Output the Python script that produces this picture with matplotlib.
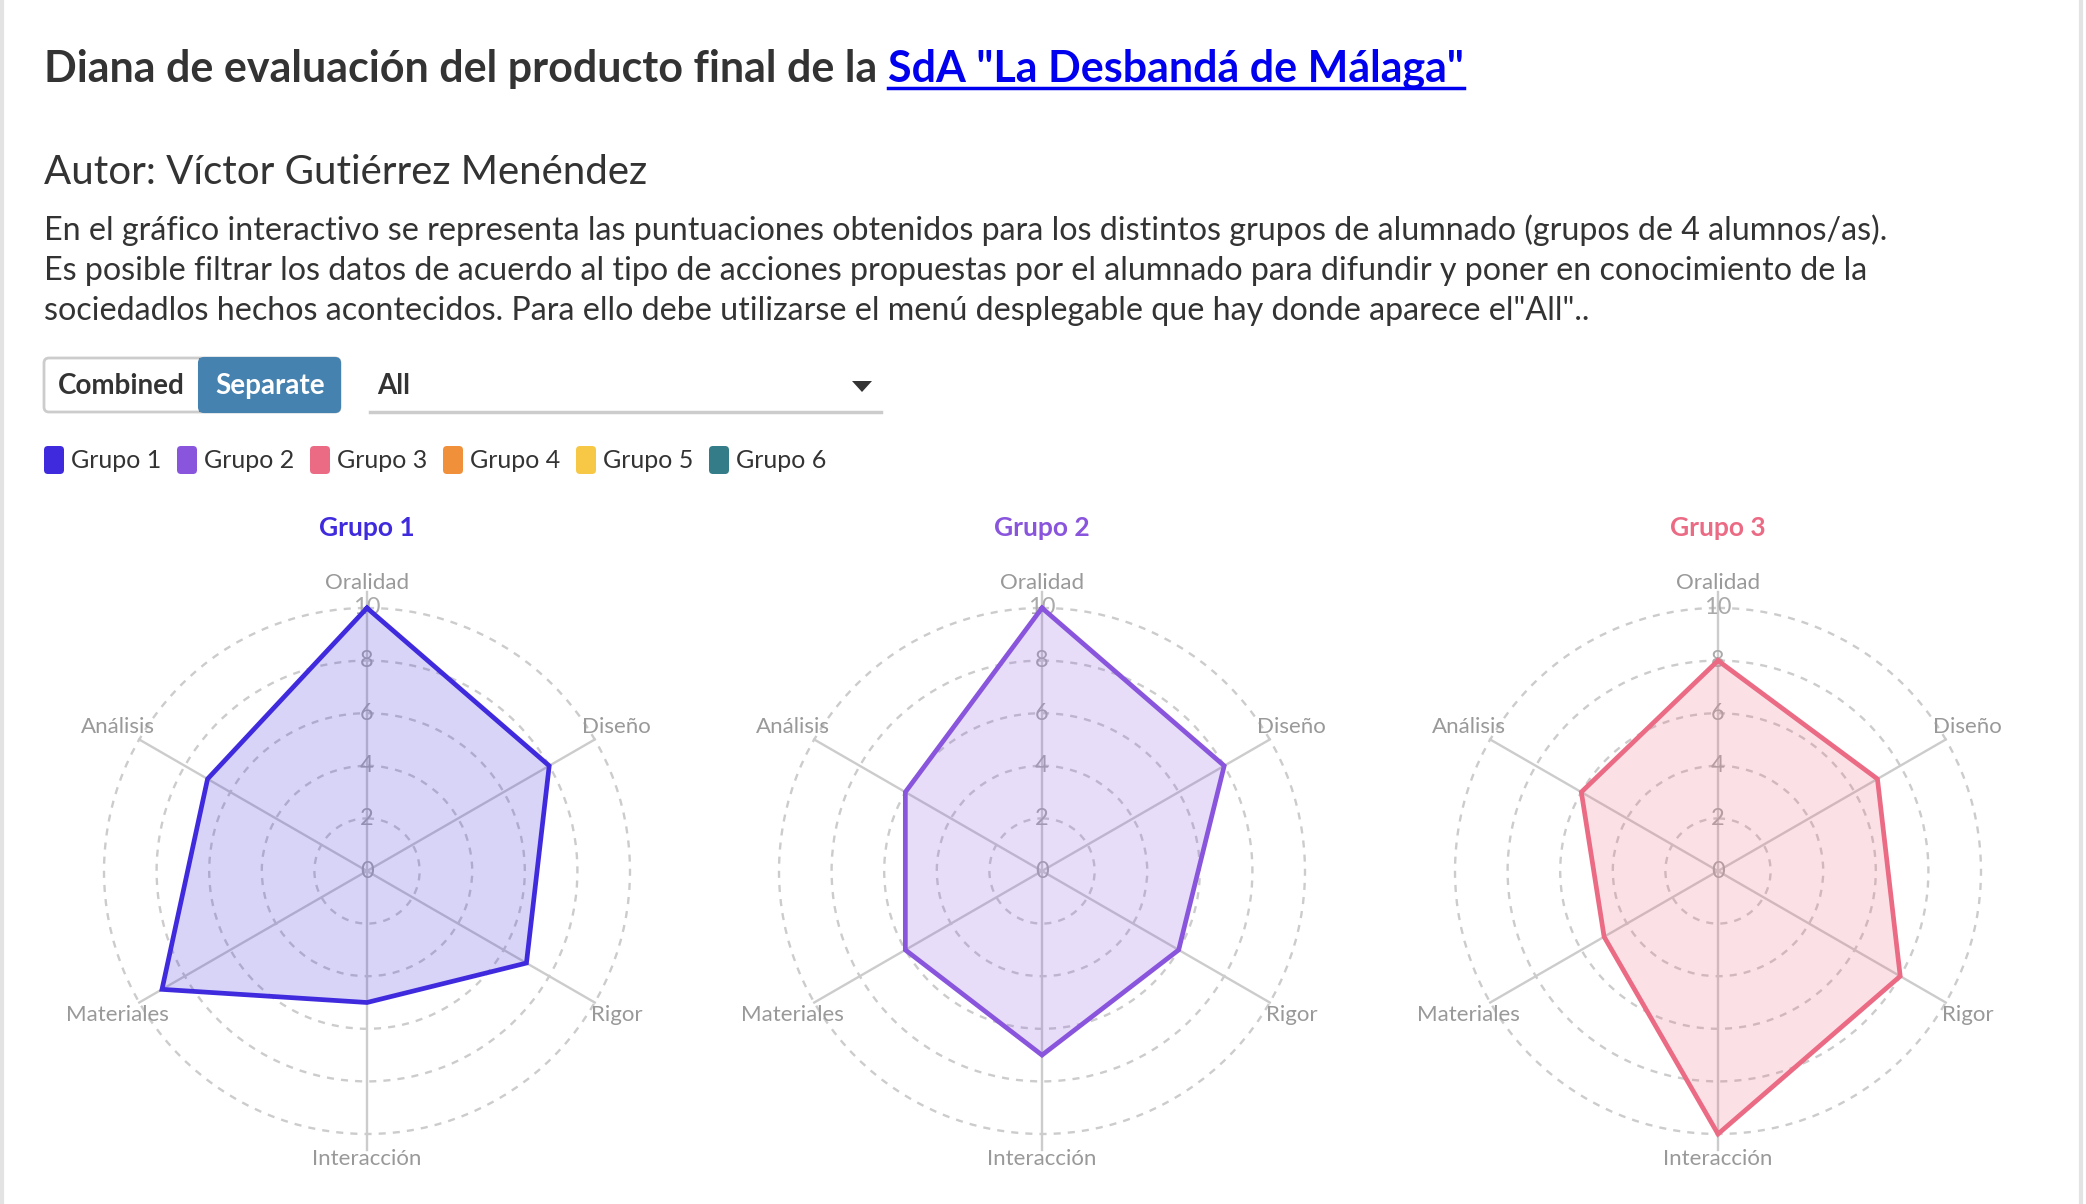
import numpy as np
import matplotlib
matplotlib.use("Agg")
import matplotlib.pyplot as plt
from matplotlib.patches import FancyBboxPatch, Rectangle, Polygon

plt.rcParams['font.family'] = ['Lato', 'DejaVu Sans']

# data
categories = ["Oralidad", "Diseño", "Rigor", "Interacción", "Materiales", "Análisis"]
groups = ["Grupo 1", "Grupo 2", "Grupo 3", "Grupo 4", "Grupo 5", "Grupo 6"]
colors = ["#3f2bdd", "#8a55dd", "#eb6a84", "#f0903a", "#f6c846", "#347c88"]
grupo1 = [10, 8, 7, 5, 9, 7]
grupo2 = [10, 8, 6, 7, 6, 6]
grupo3 = [8, 7, 8, 10, 5, 6]
shown = [grupo1, grupo2, grupo3]
r_ticks = [0, 2, 4, 6, 8, 10]

title = "Diana de evaluación del producto final de la "
link = 'SdA "La Desbandá de Málaga"'
author = "Autor: Víctor Gutiérrez Menéndez"
para = [
    "En el gráfico interactivo se representa las puntuaciones obtenidos para los distintos grupos de alumnado (grupos de 4 alumnos/as).",
    "Es posible filtrar los datos de acuerdo al tipo de acciones propuestas por el alumnado para difundir y poner en conocimiento de la",
    'sociedadlos hechos acontecidos. Para ello debe utilizarse el menú desplegable que hay donde aparece el"All"..',
]

W, H = 2086, 1204
fig = plt.figure(figsize=(W / 100, H / 100), dpi=100)
fig.patch.set_facecolor("white")

# overlay in pixel coords
bg = fig.add_axes([0, 0, 1, 1])
bg.set_xlim(0, W)
bg.set_ylim(H, 0)
bg.axis("off")

dark = "#333333"
t1 = bg.text(44, 69, title, fontsize=31, fontweight="bold", color=dark, va="center")
fig.canvas.draw()
r = fig.canvas.get_renderer()
bb = t1.get_window_extent(r)
x_link = bb.x1
t2 = bg.text(x_link, 69, link, fontsize=31, fontweight="bold", color="#0000ee", va="center")
bb2 = t2.get_window_extent(r)
bg.plot([bb2.x0, bb2.x1], [88, 88], color="#0000ee", lw=2.5)

bg.text(44, 172, author, fontsize=29, color=dark, va="center")
for i, line in enumerate(para):
    bg.text(44, 230 + i * 40.5, line, fontsize=23.2, color=dark, va="center")

# toggle buttons
bg.add_patch(FancyBboxPatch((44, 358), 296, 54, boxstyle="round,pad=0,rounding_size=5",
                            fc="white", ec="#cccccc", lw=2))
bg.add_patch(FancyBboxPatch((199, 358), 141, 54, boxstyle="round,pad=0,rounding_size=5",
                            fc="#4682b0", ec="#4682b0", lw=1.5))
bg.add_patch(Rectangle((199, 358), 10, 54, fc="#4682b0", ec="none"))
bg.text(121, 386, "Combined", fontsize=20, fontweight="bold", color=dark, ha="center", va="center")
bg.text(270, 386, "Separate", fontsize=20, fontweight="bold", color="white", ha="center", va="center")

# dropdown
bg.text(377, 386, "All", fontsize=20, fontweight="bold", color=dark, va="center")
bg.plot([370, 881], [412, 412], color="#cccccc", lw=2.5)
bg.add_patch(Polygon([[852, 381], [872, 381], [862, 392]], closed=True, fc=dark, ec="none"))

# legend
leg_x = [44, 177, 310, 443, 576, 709]
for x, g, c in zip(leg_x, groups, colors):
    bg.add_patch(FancyBboxPatch((x, 446), 20, 28, boxstyle="round,pad=0,rounding_size=4",
                                fc=c, ec="none"))
    bg.text(x + 27, 461, g, fontsize=18, color=dark, va="center")

# page borders
bg.plot([2, 2], [0, H], color="#e3e3e3", lw=3)
bg.plot([2081, 2081], [0, H], color="#e3e3e3", lw=3)

# radar charts
angles = np.arange(len(categories)) * 2 * np.pi / len(categories)
centers = [367, 1042, 1718]
cy = 871
rmax = 11.6
rad_px = 26.3 * rmax
for k, (vals, cx) in enumerate(zip(shown, centers)):
    ax = fig.add_axes([(cx - rad_px) / W, (H - cy - rad_px) / H, 2 * rad_px / W, 2 * rad_px / H],
                      projection="polar")
    ax.set_theta_zero_location("N")
    ax.set_theta_direction(-1)
    ax.set_ylim(0, rmax)
    ax.set_xticks([])
    ax.set_yticks(r_ticks[1:])
    ax.set_yticklabels([])
    ax.yaxis.grid(True, color="#cccccc", linestyle=(0, (3, 3)), linewidth=1.7)
    ax.spines["polar"].set_visible(False)
    ax.patch.set_alpha(0)

    for a in angles:
        reach = 10.6 if np.isclose(np.cos(a) ** 2, 1) else 10
        ax.plot([a, a], [0, reach], color="#cccccc", lw=1.7, zorder=1)
    for t in r_ticks:
        ax.text(0, t, str(t), fontsize=17, color="#aaaaaa", ha="center", va="center", zorder=2)
    for a, name in zip(angles, categories):
        ax.text(a, 10.95, name, fontsize=16, color="#999999", ha="center", va="center",
                clip_on=False)

    th = np.append(angles, angles[0])
    v = np.append(vals, vals[0])
    ax.fill(th, v, color=colors[k], alpha=0.2, lw=0, zorder=3)
    ax.plot(th, v, color=colors[k], lw=3.4, zorder=4, solid_joinstyle="miter")

    bg.text(cx, 528, groups[k], fontsize=19, fontweight="bold", color=colors[k],
            ha="center", va="center")

fig.savefig("out.png", dpi=100, facecolor="white")
